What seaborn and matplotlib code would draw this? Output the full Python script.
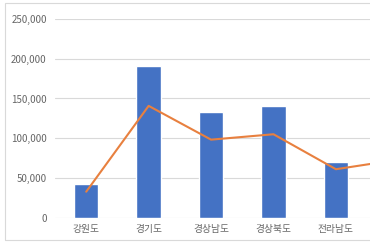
import matplotlib
matplotlib.use("Agg")
import matplotlib.pyplot as plt
import matplotlib.patches as mpatches
from matplotlib.ticker import FuncFormatter
import seaborn as sns
import pandas as pd

categories = ["강원도", "경기도", "경상남도", "경상북도", "전라남도", "전라북도"]
bar_values = [42000, 190500, 133500, 141000, 70500, 80000]
line_values = [32700, 140700, 98200, 105000, 61000, 73000]
y_ticks = [0, 50000, 100000, 150000, 200000, 250000]

df = pd.DataFrame({"region": categories, "bar": bar_values, "line": line_values})

sns.set_theme(style="white")
plt.rcParams["font.family"] = ["Noto Sans CJK KR", "DejaVu Sans"]

fig = plt.figure(figsize=(3.70, 2.46), dpi=100)
ax = fig.add_axes([55 / 370, 28.3 / 246, 315 / 370, 198.7 / 246])

sns.barplot(data=df, x="region", y="bar", order=categories, color="#4472C4",
            saturation=1, width=0.39, ax=ax, zorder=3)
sns.lineplot(data=df, x="region", y="line", color="#E8803F", linewidth=1.5,
             ax=ax, zorder=4, sort=False)

ax.set_xlim(-0.5, 4.546)
ax.set_ylim(0, 250000)
ax.set_yticks(y_ticks)
ax.yaxis.set_major_formatter(FuncFormatter(lambda v, p: f"{int(v):,}"))
ax.grid(axis="y", color="#d9d9d9", linewidth=0.8, zorder=0)
ax.set_axisbelow(True)
for s in ax.spines.values():
    s.set_visible(False)
ax.set_xlabel("")
ax.set_ylabel("")
ax.tick_params(axis="both", length=0, labelsize=7, labelcolor="#666666")
ax.tick_params(axis="y", pad=6)
ax.tick_params(axis="x", pad=4.5)

frame = mpatches.Rectangle((5 / 370, 6 / 246), 1.2, 237 / 246, transform=fig.transFigure,
                           fill=False, edgecolor="#d9d9d9", linewidth=0.8)
fig.patches.append(frame)

fig.savefig("out.png", dpi=100)
